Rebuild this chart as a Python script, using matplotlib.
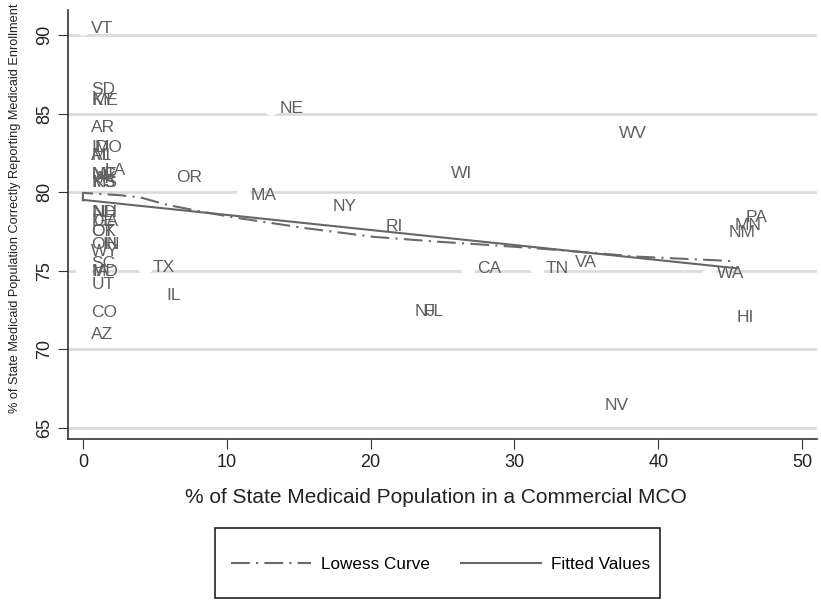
import numpy as np
import matplotlib
matplotlib.use("Agg")
import matplotlib.pyplot as plt
from matplotlib.patches import Rectangle

plt.rcParams['font.family'] = ['Liberation Sans', 'DejaVu Sans']

# state, % in commercial MCO, % correctly reporting enrollment
states = ['VT', 'SD', 'KY', 'ME', 'AR', 'ID', 'MO', 'AL', 'MI', 'LA',
          'MT', 'NC', 'AK', 'MS', 'KS', 'ND', 'NH', 'DE', 'GA', 'OK',
          'CT', 'OH', 'IN', 'WY', 'SC', 'MD', 'IA', 'UT', 'CO', 'AZ',
          'OR', 'TX', 'IL', 'NE', 'MA', 'NY', 'RI', 'NJ', 'FL', 'WI',
          'WV', 'CA', 'TN', 'VA', 'WA', 'HI', 'NV', 'PA', 'MN', 'NM']
pct_mco = [0.0, 0.0, 0.0, 0.1, 0.0, 0.0, 0.2, 0.0, 0.0, 0.9,
           0.0, 0.0, 0.2, 0.0, 0.1, 0.0, 0.1, 0.0, 0.1, 0.0,
           0.0, 0.0, 0.8, 0.0, 0.0, 0.0, 0.1, 0.0, 0.0, 0.0,
           5.9, 4.3, 5.2, 13.1, 11.1, 16.8, 20.5, 22.5, 23.1, 25.0,
           36.7, 26.8, 31.6, 33.6, 43.5, 44.9, 35.7, 45.5, 44.7, 44.3]
pct_correct = [90.45, 86.55, 85.85, 85.85, 84.1, 82.85, 82.85, 82.35, 82.35, 81.35,
               81.1, 81.1, 80.85, 80.6, 80.6, 78.7, 78.7, 78.1, 78.1, 77.5,
               77.5, 76.65, 76.65, 76.2, 75.45, 74.95, 74.95, 74.1, 72.3, 70.95,
               80.95, 75.2, 73.4, 85.35, 79.8, 79.1, 77.8, 72.4, 72.4, 81.2,
               83.75, 75.15, 75.15, 75.5, 74.8, 72.0, 66.4, 78.4, 77.9, 77.45]

# lowess curve
lowess_x = [0, 0, 2.6, 4.0, 5.8, 8.0, 10.4, 15.5, 20.2, 24.8, 27.1, 31.8, 38.7, 45.3]
lowess_y = [79.4, 79.95, 79.8, 79.66, 79.2, 78.8, 78.4, 77.7, 77.15, 76.83, 76.7, 76.4, 75.88, 75.6]

x = np.array(pct_mco)
y = np.array(pct_correct)
slope, icpt = np.polyfit(x, y, 1)
fx = np.array([0, x.max()])
fy = icpt + slope * fx

fig = plt.figure(figsize=(8.21, 6.01), dpi=100)
ax = fig.add_axes([0.0828, 0.2696, 0.9123, 0.7137])

gray = '#5f5f5f'
ax.set_xlim(-1.04, 51.04)
ax.set_ylim(64.27, 91.6)
ax.set_yticks([65, 70, 75, 80, 85, 90])
ax.set_xticks([0, 10, 20, 30, 40, 50])
ax.grid(axis='y', color='#dcdcdc', linewidth=2, zorder=0)
ax.set_axisbelow(True)

ax.scatter(x, y, s=90, color='white', zorder=2)
for s, xi, yi in zip(states, x, y):
    ax.annotate(s, (xi, yi), xytext=(6, 0), textcoords='offset points',
                ha='left', va='center', fontsize=12.5, color=gray, zorder=3)

ax.plot(lowess_x, lowess_y, color='#6a6a6a', lw=1.5, ls=(0, (9, 3, 1, 3)),
        zorder=4, label='Lowess Curve')
ax.plot(fx, fy, color='#666666', lw=1.5, zorder=4, label='Fitted Values')

for side in ['top', 'right']:
    ax.spines[side].set_visible(False)
ax.spines['left'].set_color('#333333')
ax.spines['bottom'].set_color('#333333')
ax.spines['left'].set_linewidth(1.2)
ax.spines['bottom'].set_linewidth(1.2)
ax.tick_params(axis='both', length=7, color='#333333', labelsize=13, labelcolor='#222222')
for t in ax.get_yticklabels():
    t.set_rotation(90)
    t.set_va('center')

ax.set_xlabel('% of State Medicaid Population in a Commercial MCO', fontsize=15,
              color='#222222')
ax.xaxis.set_label_coords(0.491, -0.114)
fig.text(0.018, 0.995, '% of State Medicaid Population Correctly Reporting Medicaid Enrollment',
         rotation=90, ha='center', va='top', fontsize=9.2, color='#222222')

# legend box
fig.add_artist(Rectangle((0.2619, 0.005), 0.542, 0.1165, transform=fig.transFigure,
                         fill=False, edgecolor='#222222', linewidth=1.2))
handles, labels = ax.get_legend_handles_labels()
fig.legend(handles, labels, loc='center', bbox_to_anchor=(0.5366, 0.06), ncol=2,
           frameon=False, fontsize=12.3, handlelength=4.7, handletextpad=0.6,
           columnspacing=1.8)

fig.savefig('out.png', dpi=100)
